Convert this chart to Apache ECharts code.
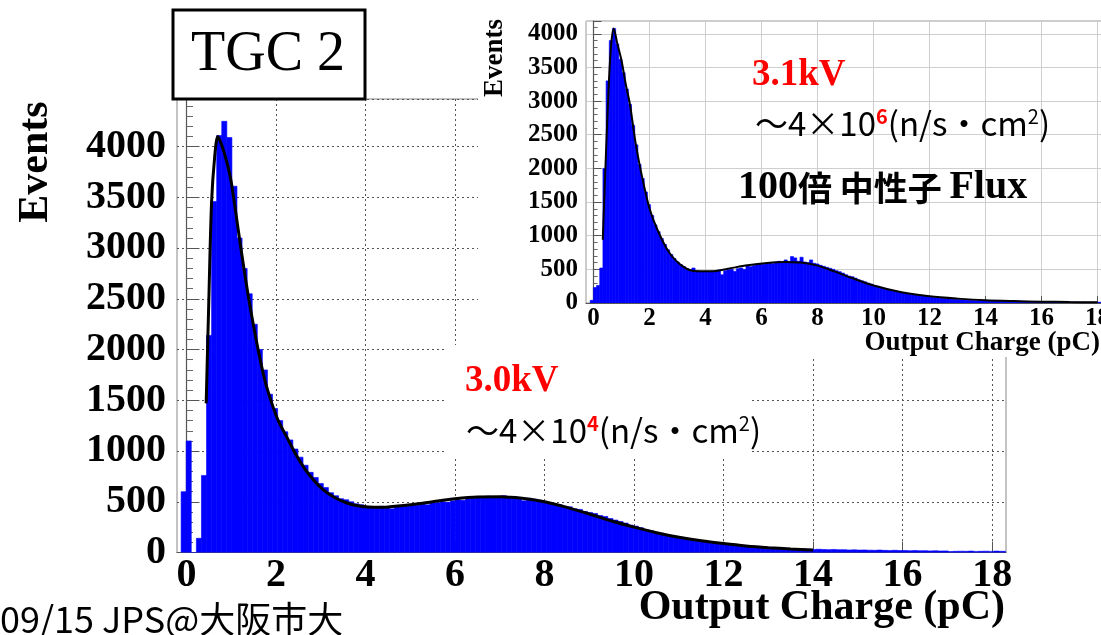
<!DOCTYPE html>
<html>
<head>
<meta charset="utf-8">
<script src="https://cdn.jsdelivr.net/npm/echarts@6/dist/echarts.min.js"></script>
<style>
html, body { margin: 0; padding: 0; background: #fff; }
#chart { width: 1101px; height: 635px; }
</style>
</head>
<body>
<div id="chart"></div>
<script>
// histogram binning (pC)
const binStart = -0.12;
const binWidth = 0.1135;

// 3.0kV, main plot
const mainCounts = [
  600, 1100, 0, 140, 760, 2140, 3460, 4110, 4250, 4090,
  3610, 3100, 2800, 2550, 2250, 2000, 1800, 1560, 1420, 1300,
  1190, 1110, 1020, 940, 860, 790, 740, 680, 640, 590,
  560, 530, 520, 500, 480, 470, 455, 450, 445, 455,
  450, 430, 455, 460, 455, 470, 465, 480, 470, 495,
  490, 500, 495, 510, 520, 515, 530, 535, 540, 545,
  555, 545, 550, 560, 545, 540, 530, 510, 535, 525,
  515, 500, 490, 480, 470, 455, 450, 430, 425, 405,
  395, 385, 365, 355, 335, 320, 305, 290, 270, 260,
  245, 225, 215, 200, 190, 175, 165, 160, 150, 140,
  130, 120, 115, 105, 100, 95, 90, 85, 80, 75,
  70, 68, 62, 60, 55, 52, 50, 45, 44, 40,
  38, 35, 36, 32, 30, 32, 30, 28, 30, 27,
  28, 25, 26, 24, 25, 23, 22, 24, 21, 20,
  22, 19, 20, 18, 19, 17, 18, 16, 17, 15,
  16, 10, 12, 13, 12, 14, 11, 12, 13, 11,
  14, 12, 11
];
const mainFit = [
  [0.44, 1470], [0.5, 2500], [0.56, 3450], [0.63, 3900], [0.70, 4100], [0.80, 4000],
  [0.9, 3850], [1.0, 3650], [1.15, 3200], [1.3, 2750], [1.45, 2350], [1.6, 2000],
  [1.75, 1700], [1.9, 1480], [2.05, 1300], [2.25, 1130], [2.45, 960], [2.65, 820],
  [2.85, 710], [3.05, 620], [3.3, 545], [3.6, 485], [3.9, 455], [4.2, 445],
  [4.5, 448], [5.0, 470], [5.5, 500], [6.0, 530], [6.5, 548], [7.0, 550],
  [7.5, 535], [8.0, 500], [8.5, 445], [9.0, 380], [9.5, 310], [10.0, 250],
  [10.5, 195], [11.0, 150], [11.5, 115], [12.0, 88], [12.5, 65], [13.0, 48],
  [13.5, 35], [14.0, 25]
];

// 3.1kV, inset plot
const insetCounts = [
  40, 230, 260, 520, 2000, 3300, 3900, 4080, 3850, 3620,
  3420, 3180, 2950, 2640, 2350, 2060, 1850, 1650, 1460, 1300,
  1160, 1060, 960, 870, 790, 720, 660, 610, 570, 540,
  510, 495, 520, 480, 470, 465, 470, 460, 475, 470,
  490, 420, 480, 495, 500, 470, 510, 520, 500, 560,
  540, 555, 570, 580, 575, 590, 600, 585, 610, 620,
  600, 640, 615, 690, 670, 620, 680, 610, 600, 640,
  590, 580, 560, 545, 530, 515, 500, 480, 465, 445,
  420, 400, 390, 370, 345, 330, 315, 295, 280, 260,
  250, 235, 220, 205, 195, 180, 170, 160, 150, 140,
  132, 125, 118, 110, 103, 98, 92, 86, 80, 76,
  71, 66, 62, 58, 55, 52, 49, 46, 43, 41,
  38, 36, 38, 34, 32, 33, 30, 29, 30, 27,
  26, 27, 25, 24, 25, 23, 22, 23, 21, 20,
  21, 19, 20, 18, 18, 17, 18, 16, 17, 15,
  16, 15, 14, 15, 13, 14, 12, 13, 12, 11,
  12, 11, 10
];
const insetFit = [
  [0.33, 940], [0.45, 2300], [0.55, 3300], [0.63, 3850], [0.72, 4080], [0.85, 3850],
  [1.0, 3600], [1.15, 3250], [1.3, 2950], [1.5, 2380], [1.75, 1840], [2.0, 1400],
  [2.3, 1070], [2.7, 750], [3.2, 540], [3.7, 470], [4.2, 470], [4.8, 510],
  [5.5, 560], [6.2, 595], [6.8, 610], [7.4, 600], [8.0, 555], [8.6, 470],
  [9.2, 375], [10.0, 260], [11.0, 160], [12.0, 100], [13.0, 65], [14.0, 40],
  [15.0, 28], [16.0, 20], [17.0, 14], [18.0, 10]
];

const chargeTicks = [0, 2, 4, 6, 8, 10, 12, 14, 16, 18];

const SERIF = "'Liberation Serif', 'DejaVu Serif', serif";
const GOTHIC = "'Noto Sans CJK JP', sans-serif";

function toBins(counts) {
  return counts.map((v, i) => [binStart + i * binWidth, binStart + (i + 1) * binWidth, v]);
}

function histItem(params, api) {
  const p0 = api.coord([api.value(0), api.value(2)]);
  const p1 = api.coord([api.value(1), 0]);
  return {
    type: 'rect',
    shape: { x: p0[0], y: p0[1], width: p1[0] - p0[0], height: p1[1] - p0[1] },
    style: { fill: '#0000ff', stroke: '#0000ff', lineWidth: 0.6 }
  };
}

function xAxisOf(grid, min, max, fontSize, tickLen, split, z) {
  return {
    type: 'value', gridIndex: grid, min: min, max: max, z: z,
    axisLine: { show: true, onZero: false, lineStyle: { color: '#555', width: 1.2 } },
    axisTick: { show: true, inside: true, length: tickLen, customValues: chargeTicks, lineStyle: { color: '#555' } },
    axisLabel: {
      customValues: chargeTicks, color: '#000', fontFamily: SERIF, fontWeight: 'bold',
      fontSize: fontSize, margin: 3, formatter: v => String(v)
    },
    splitLine: { show: true, lineStyle: split }
  };
}

function yAxisOf(grid, max, fontSize, tickLen, margin, split, z) {
  return {
    type: 'value', gridIndex: grid, min: 0, max: max, interval: 500, z: z,
    axisLine: { show: true, lineStyle: { color: '#555', width: 1.2 } },
    axisTick: { show: true, inside: true, length: tickLen, lineStyle: { color: '#555' } },
    minorTick: { show: true, splitNumber: 5, length: tickLen / 2, lineStyle: { color: '#666' } },
    axisLabel: {
      color: '#000', fontFamily: SERIF, fontWeight: 'bold', fontSize: fontSize,
      margin: margin, showMaxLabel: false, formatter: v => String(v)
    },
    splitLine: { show: true, lineStyle: split }
  };
}

function fluxText(exp, size, supSize) {
  return {
    text: '{a|～4×10}{s|' + exp + '}{a|(n/s・cm}{t|2}{a|)}', align: 'left', verticalAlign: 'middle',
    rich: {
      a: { fontFamily: GOTHIC, fontSize: size, fill: '#000', color: '#000' },
      s: { fontFamily: GOTHIC, fontSize: supSize, fontWeight: 'bold', fill: '#ff0000', color: '#ff0000', verticalAlign: 'top' },
      t: { fontFamily: GOTHIC, fontSize: supSize, fill: '#000', color: '#000', verticalAlign: 'top' }
    }
  };
}

const chart = echarts.init(document.getElementById('chart'), null, { renderer: 'canvas' });

const option = {
  animation: false,
  backgroundColor: '#fff',
  grid: [
    { left: 177, top: 99, width: 829, height: 453.5, show: true, borderColor: '#888',
      borderWidth: 1, backgroundColor: 'transparent', outerBoundsMode: 'none', z: 0 },
    { left: 586, top: 21, width: 520, height: 282, show: true, borderColor: '#999',
      borderWidth: 1, backgroundColor: '#fff', outerBoundsMode: 'none', z: 6 }
  ],
  xAxis: [
    xAxisOf(0, -0.212, 18.31, 40, 11, { color: '#555', type: [2, 3], width: 1 }, 0),
    xAxisOf(1, -0.27, 18.3, 25, 7, { color: '#cfcfcf', type: 'solid', width: 1 }, 7)
  ],
  yAxis: [
    yAxisOf(0, 4470, 40, 13, 11, { color: '#555', type: [2, 3], width: 1 }, 0),
    yAxisOf(1, 4190, 25, 8, 8, { color: '#cfcfcf', type: 'solid', width: 1 }, 7)
  ],
  series: [
    { type: 'custom', xAxisIndex: 0, yAxisIndex: 0, renderItem: histItem, clip: true,
      encode: { x: [0, 1], y: 2 }, data: toBins(mainCounts), z: 2 },
    { type: 'line', xAxisIndex: 0, yAxisIndex: 0, data: mainFit, smooth: 0.3, showSymbol: false,
      symbol: 'none', lineStyle: { color: '#000', width: 3 }, z: 3 },
    { type: 'custom', xAxisIndex: 1, yAxisIndex: 1, renderItem: histItem, clip: true,
      encode: { x: [0, 1], y: 2 }, data: toBins(insetCounts), z: 8 },
    { type: 'line', xAxisIndex: 1, yAxisIndex: 1, data: insetFit, smooth: 0.3, showSymbol: false,
      symbol: 'none', lineStyle: { color: '#000', width: 2 }, z: 9 }
  ],
  graphic: [
    // white panels over the main plot
    { type: 'rect', z: 5, shape: { x: 478, y: 0, width: 623, height: 357 }, style: { fill: '#fff' } },
    { type: 'rect', z: 5, shape: { x: 445, y: 345, width: 305, height: 111 }, style: { fill: '#fff' } },
    // title box
    { type: 'rect', z: 20, shape: { x: 173, y: 10, width: 192, height: 89 },
      style: { fill: '#fff', stroke: '#000', lineWidth: 3 } },
    { type: 'text', z: 21, x: 268, y: 55,
      style: { text: 'TGC 2', fontFamily: SERIF, fontSize: 56, fill: '#000', align: 'center', verticalAlign: 'middle' } },
    // axis titles
    { type: 'text', z: 21, x: 36, y: 162, rotation: Math.PI / 2,
      style: { text: 'Events', fontFamily: SERIF, fontWeight: 'bold', fontSize: 42, fill: '#000', align: 'center', verticalAlign: 'middle' } },
    { type: 'text', z: 21, x: 1005, y: 608,
      style: { text: 'Output Charge (pC)', fontFamily: SERIF, fontWeight: 'bold', fontSize: 42, fill: '#000', align: 'right', verticalAlign: 'middle' } },
    { type: 'text', z: 21, x: 495, y: 58, rotation: Math.PI / 2,
      style: { text: 'Events', fontFamily: SERIF, fontWeight: 'bold', fontSize: 27, fill: '#000', align: 'center', verticalAlign: 'middle' } },
    { type: 'text', z: 21, x: 1100, y: 343,
      style: { text: 'Output Charge (pC)', fontFamily: SERIF, fontWeight: 'bold', fontSize: 27, fill: '#000', align: 'right', verticalAlign: 'middle' } },
    // annotations
    { type: 'text', z: 21, x: 752, y: 75,
      style: { text: '3.1kV', fontFamily: SERIF, fontWeight: 'bold', fontSize: 37, fill: '#ff0000', align: 'left', verticalAlign: 'middle' } },
    { type: 'text', z: 21, x: 755, y: 123, style: fluxText('6', 33, 20) },
    { type: 'text', z: 21, x: 738, y: 188,
      style: {
        text: '{n|100}{j|倍 中性子 }{n|Flux}', align: 'left', verticalAlign: 'middle',
        rich: {
          n: { fontFamily: SERIF, fontWeight: 'bold', fontSize: 40, fill: '#000', color: '#000' },
          j: { fontFamily: GOTHIC, fontWeight: 'bold', fontSize: 34, fill: '#000', color: '#000' }
        }
      } },
    { type: 'text', z: 21, x: 465, y: 381,
      style: { text: '3.0kV', fontFamily: SERIF, fontWeight: 'bold', fontSize: 37, fill: '#ff0000', align: 'left', verticalAlign: 'middle' } },
    { type: 'text', z: 21, x: 466, y: 430, style: fluxText('4', 33, 20) },
    // footer
    { type: 'text', z: 21, x: 0, y: 619,
      style: { text: '09/15 JPS@大阪市大', fontFamily: GOTHIC, fontSize: 36, fill: '#000', align: 'left', verticalAlign: 'middle' } }
  ]
};

chart.setOption(option);
</script>
</body>
</html>
